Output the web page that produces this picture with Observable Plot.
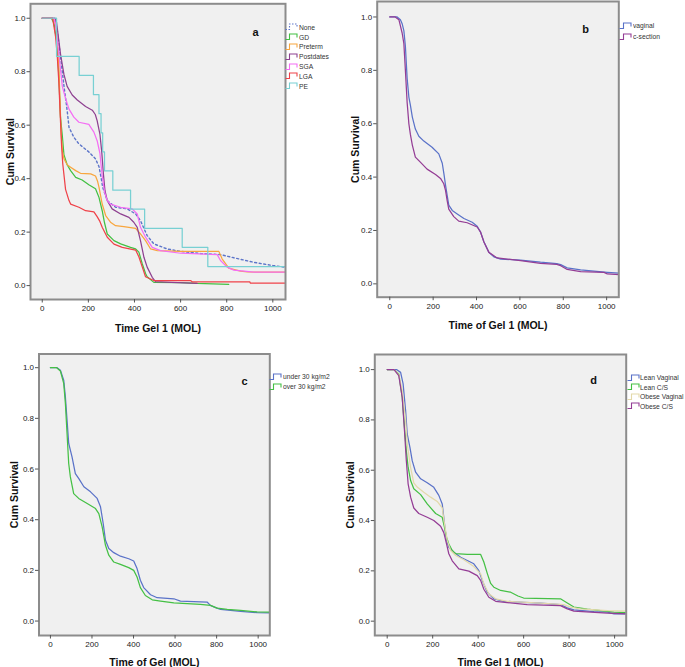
<!DOCTYPE html>
<html><head><meta charset="utf-8">
<script src="https://cdn.jsdelivr.net/npm/d3@7"></script>
<script src="https://cdn.jsdelivr.net/npm/@observablehq/plot@0.6"></script>
<style>
body{margin:0;background:#fff;}
#root{position:relative;width:685px;height:667px;overflow:hidden;font-family:"Liberation Sans",Arial,sans-serif;}
.panel{position:absolute;}
.legend{position:absolute;font-family:"Liberation Sans",Arial,sans-serif;font-size:8px;color:#333;}
.legend .it{display:flex;align-items:center;white-space:nowrap;}
.legend svg{margin-right:0.5px;flex:none;}
.legend span{display:inline-block;transform:scaleX(0.84);transform-origin:left center;}
</style></head><body><div id="root"></div><script>
// ---------- data ----------
const xTicks = [0, 200, 400, 600, 800, 1000];
const yTicks = [0, 0.2, 0.4, 0.6, 0.8, 1.0];

// panel a
const aLabels = ["None", "GD", "Preterm", "Postdates", "SGA", "LGA", "PE"];
const aNone = [[0,1],[45,1],[58,0.985],[65,0.954],[80,0.85],[94,0.748],[108,0.655],[116,0.592],[137,0.555],[159,0.53],[202,0.5],[231,0.474],[246,0.445],[256,0.4],[262,0.368],[282,0.318],[318,0.293],[368,0.287],[405,0.268],[426,0.243],[455,0.187],[484,0.156],[542,0.137],[600,0.128],[686,0.12],[773,0.116],[831,0.104],[918,0.087],[1000,0.075],[1055,0.069]];
const aGD = [[0,1],[40,1],[51,0.98],[65,0.9],[72,0.78],[79,0.63],[87,0.56],[94,0.49],[108,0.452],[123,0.43],[145,0.405],[173,0.395],[202,0.377],[231,0.362],[246,0.33],[260,0.28],[270,0.235],[282,0.193],[311,0.168],[340,0.156],[383,0.143],[405,0.137],[419,0.125],[434,0.081],[448,0.045],[455,0.033],[484,0.012],[600,0.011],[672,0.008],[809,0.005]];
const aPreterm = [[0,1],[45,1],[58,0.98],[65,0.93],[72,0.817],[82,0.567],[88,0.5],[94,0.475],[108,0.452],[123,0.443],[145,0.43],[166,0.42],[210,0.418],[231,0.41],[240,0.39],[246,0.368],[260,0.305],[275,0.262],[296,0.237],[318,0.224],[354,0.221],[405,0.214],[426,0.193],[448,0.168],[470,0.137],[499,0.131],[600,0.128],[766,0.128],[780,0.1],[809,0.065],[860,0.054],[889,0.051],[1055,0.05]];
const aPostdates = [[0,1],[55,1],[62,0.985],[67,0.95],[79,0.867],[94,0.79],[108,0.745],[130,0.713],[152,0.694],[188,0.67],[217,0.656],[230,0.64],[238,0.617],[250,0.567],[258,0.5],[265,0.42],[272,0.355],[282,0.318],[303,0.287],[340,0.268],[376,0.255],[397,0.237],[412,0.218],[426,0.168],[441,0.106],[455,0.069],[477,0.031],[491,0.015],[560,0.012],[672,0.008]];
const aSGA = [[0,1],[50,1],[58,0.975],[72,0.867],[87,0.745],[101,0.7],[116,0.66],[137,0.63],[159,0.611],[202,0.603],[224,0.574],[238,0.542],[250,0.495],[260,0.41],[270,0.35],[282,0.318],[296,0.305],[340,0.293],[390,0.287],[412,0.268],[426,0.218],[448,0.181],[477,0.143],[513,0.131],[600,0.121],[759,0.116],[773,0.094],[802,0.069],[831,0.058],[918,0.05],[1055,0.05]];
const aLGA = [[0,1],[45,1],[58,0.93],[65,0.86],[72,0.76],[79,0.617],[84,0.52],[89,0.455],[101,0.36],[116,0.318],[123,0.305],[159,0.293],[188,0.28],[224,0.276],[238,0.258],[250,0.24],[260,0.218],[282,0.181],[311,0.155],[347,0.143],[405,0.133],[419,0.108],[434,0.069],[448,0.033],[484,0.019],[643,0.019],[650,0.014],[900,0.014],[903,0.009],[1055,0.009]];
const aPE = [[0,1],[62,0.857],[160,0.786],[222,0.714],[246,0.643],[255,0.571],[262,0.5],[270,0.429],[306,0.357],[383,0.286],[444,0.214],[607,0.143],[718,0.071],[1055,0.071]];

// panel b
const bLabels = ["vaginal", "c-section"];
const bVaginal = [[0,1],[34,1],[49,0.99],[57,0.975],[65,0.948],[72,0.89],[80,0.77],[88,0.7],[95,0.67],[104,0.625],[118,0.58],[134,0.553],[157,0.535],[195,0.512],[226,0.487],[242,0.452],[250,0.41],[257,0.37],[265,0.33],[272,0.295],[288,0.275],[311,0.262],[342,0.245],[380,0.231],[403,0.216],[418,0.195],[434,0.158],[457,0.118],[480,0.101],[511,0.093],[603,0.089],[695,0.081],[770,0.076],[788,0.072],[818,0.06],[880,0.052],[1003,0.043],[1057,0.04]];
const bCsection = [[0,1],[25,1],[42,0.99],[57,0.94],[65,0.9],[72,0.8],[80,0.68],[88,0.6],[95,0.56],[104,0.52],[118,0.475],[142,0.455],[172,0.43],[211,0.41],[234,0.395],[249,0.375],[257,0.35],[265,0.31],[272,0.28],[295,0.252],[318,0.235],[357,0.229],[403,0.213],[418,0.195],[434,0.157],[457,0.118],[495,0.097],[542,0.093],[603,0.087],[695,0.077],[770,0.073],[788,0.068],[818,0.054],[880,0.046],[988,0.043],[1003,0.037],[1057,0.035]];

// panel c
const cLabels = ["under 30 kg/m2", "over 30 kg/m2"];
const cUnder = [[0,1],[32,1],[48,0.99],[64,0.951],[72,0.885],[80,0.793],[88,0.701],[104,0.648],[120,0.582],[136,0.563],[161,0.53],[193,0.51],[225,0.484],[241,0.451],[254,0.385],[265,0.319],[281,0.286],[305,0.27],[337,0.256],[377,0.246],[401,0.237],[417,0.207],[433,0.161],[449,0.132],[482,0.104],[514,0.092],[594,0.088],[626,0.079],[754,0.075],[770,0.062],[795,0.053],[819,0.046],[915,0.038],[995,0.033],[1056,0.032]];
const cOver = [[0,1],[30,1],[48,0.987],[64,0.938],[72,0.859],[80,0.74],[88,0.622],[96,0.569],[112,0.503],[136,0.484],[177,0.464],[217,0.444],[233,0.424],[249,0.372],[265,0.299],[281,0.26],[305,0.233],[337,0.224],[377,0.211],[401,0.2],[417,0.174],[433,0.132],[457,0.101],[490,0.084],[530,0.079],[594,0.072],[722,0.066],[770,0.062],[803,0.051],[851,0.046],[915,0.042],[995,0.036],[1056,0.035]];

// panel d
const dLabels = ["Lean Vaginal", "Lean C/S", "Obese Vaginal", "Obese C/S"];
const dLeanVag = [[0,1],[41,1],[59,0.989],[70,0.943],[81,0.837],[88,0.744],[100,0.691],[110,0.638],[125,0.592],[147,0.566],[176,0.55],[205,0.532],[227,0.5],[242,0.466],[252,0.387],[261,0.321],[271,0.294],[293,0.274],[323,0.254],[359,0.238],[381,0.228],[403,0.201],[418,0.162],[440,0.115],[469,0.089],[513,0.079],[601,0.075],[674,0.072],[762,0.066],[792,0.053],[821,0.045],[909,0.038],[968,0.036],[997,0.029],[1051,0.029]];
const dLeanCS = [[0,1],[30,1],[51,0.983],[66,0.89],[76,0.771],[84,0.678],[92,0.612],[103,0.559],[117,0.526],[147,0.503],[176,0.466],[213,0.428],[242,0.413],[252,0.373],[261,0.334],[271,0.307],[286,0.281],[301,0.268],[352,0.265],[411,0.265],[425,0.235],[440,0.19],[455,0.15],[469,0.135],[499,0.122],[543,0.115],[575,0.1],[600,0.092],[762,0.089],[792,0.072],[821,0.056],[880,0.048],[997,0.036],[1051,0.034]];
const dObeseVag = [[0,1],[30,1],[51,0.98],[66,0.917],[81,0.797],[88,0.705],[103,0.61],[117,0.55],[132,0.533],[161,0.512],[191,0.493],[220,0.476],[242,0.45],[252,0.387],[264,0.321],[279,0.281],[301,0.261],[337,0.244],[381,0.217],[411,0.188],[425,0.148],[447,0.109],[477,0.089],[528,0.079],[674,0.072],[777,0.066],[806,0.056],[850,0.049],[968,0.042],[1051,0.04]];
const dObeseCS = [[0,1],[30,1],[51,0.976],[66,0.89],[76,0.758],[84,0.64],[92,0.546],[103,0.493],[117,0.45],[139,0.428],[176,0.413],[205,0.4],[235,0.377],[249,0.352],[261,0.307],[271,0.268],[286,0.24],[315,0.208],[359,0.199],[396,0.181],[411,0.162],[425,0.127],[447,0.095],[477,0.079],[528,0.074],[616,0.066],[762,0.062],[792,0.049],[821,0.04],[968,0.032],[1051,0.029]];

// ---------- styles ----------
const cBlue = "#5a72c8", cGreen = "#45c045", cPurple = "#943d95";
const panels = [
  {left:0, top:0, width:340, height:340, mL:30, mR:55, mT:3.3, mB:41, xDom:[-51,1055], yDom:[-0.052,1.054],
   xLabel:"Time Gel 1 (MOL)", letter:"a", ldx:-30, ldy:28.7, ydx:-20, xdy:29,
   legend:{x:285, y:22.5, h:9.8},
   series:[
     {name:aLabels[0], pts:aNone, color:"#5d75c9", dash:"2,2.6", w:1.4},
     {name:aLabels[1], pts:aGD, color:"#43c043"},
     {name:aLabels[2], pts:aPreterm, color:"#f8a63e"},
     {name:aLabels[3], pts:aPostdates, color:"#8e4191"},
     {name:aLabels[4], pts:aSGA, color:"#f46ef4"},
     {name:aLabels[5], pts:aLGA, color:"#ef4249"},
     {name:aLabels[6], pts:aPE, color:"#78d0d3", curve:"step-after"}
   ]},
  {left:340, top:0, width:345, height:340, mL:36.7, mR:66.7, mT:1, mB:43.3, xDom:[-58,1056], yDom:[-0.05,1.058],
   xLabel:"Time of Gel 1 (MOL)", letter:"b", ldx:-33.3, ldy:28, ydx:-21.7, xdy:28.5,
   legend:{x:619.3, y:20.2, h:11},
   series:[
     {name:bLabels[0], pts:bVaginal, color:cBlue},
     {name:bLabels[1], pts:bCsection, color:cPurple}
   ]},
  {left:0, top:350, width:340, height:317, mL:38.5, mR:70.7, mT:3.5, mB:32, xDom:[-55,1056], yDom:[-0.057,1.054],
   xLabel:"Time of Gel (MOL)", letter:"c", ldx:-25.3, ldy:27, ydx:-24, xdy:26.7,
   legend:{x:269.3, y:371.7, h:10},
   series:[
     {name:cLabels[0], pts:cUnder, color:cBlue},
     {name:cLabels[1], pts:cOver, color:cGreen}
   ]},
  {left:340, top:350, width:345, height:317, mL:34.3, mR:59.3, mT:4, mB:32, xDom:[-54.5,1051], yDom:[-0.057,1.06],
   xLabel:"Time Gel 1 (MOL)", letter:"d", ldx:-32.7, ldy:26, ydx:-24.3, xdy:26.7,
   legend:{x:626.5, y:373, h:9.5},
   series:[
     {name:dLabels[0], pts:dLeanVag, color:cBlue},
     {name:dLabels[1], pts:dLeanCS, color:cGreen},
     {name:dLabels[2], pts:dObeseVag, color:"#e3d9aa"},
     {name:dLabels[3], pts:dObeseCS, color:cPurple}
   ]}
];

const root = document.getElementById("root");
for (const p of panels) {
  const chart = Plot.plot({
    width: p.width, height: p.height,
    marginLeft: p.mL, marginRight: p.mR, marginTop: p.mT, marginBottom: p.mB,
    style: {background: "transparent", color: "#222", fontFamily: "'Liberation Sans', Arial, sans-serif", overflow: "visible"},
    x: {domain: p.xDom},
    y: {domain: p.yDom},
    marks: [
      Plot.frame({fill: "#f0f0f0"}),
      ...p.series.map(s => Plot.line(s.pts, {
        x: d => d[0], y: d => d[1], stroke: s.color, strokeWidth: s.w || 1.25,
        strokeDasharray: s.dash, curve: s.curve || "linear", clip: true
      })),
      Plot.frame({stroke: "#8c8c8c", strokeWidth: 2}),
      Plot.axisX({ticks: xTicks, tickFormat: d => String(d), tickSize: 3.5, tickPadding: 2.5, fontSize: 8, label: null, stroke: "#555"}),
      Plot.axisY({ticks: yTicks, tickFormat: d3.format(".1f"), tickSize: 3.5, tickPadding: 1.5, fontSize: 8, label: null, stroke: "#555"}),
      Plot.text([p.xLabel], {frameAnchor: "bottom", dy: p.xdy, fontWeight: "bold", fontSize: 10.5, textAnchor: "middle", lineAnchor: "middle", fill: "#111"}),
      Plot.text(["Cum Survival"], {frameAnchor: "left", dx: p.ydx, rotate: -90, fontWeight: "bold", fontSize: 10.5, textAnchor: "middle", lineAnchor: "middle", fill: "#111"}),
      Plot.text([p.letter], {frameAnchor: "top-right", dx: p.ldx, dy: p.ldy, fontWeight: "bold", fontSize: 11, textAnchor: "middle", lineAnchor: "middle", fill: "#111"})
    ]
  });
  const wrap = document.createElement("div");
  wrap.className = "panel";
  wrap.style.left = p.left + "px";
  wrap.style.top = p.top + "px";
  wrap.appendChild(chart);
  root.appendChild(wrap);

  const lg = document.createElement("div");
  lg.className = "legend";
  lg.style.left = p.legend.x + "px";
  lg.style.top = p.legend.y + "px";
  for (const s of p.series) {
    const it = document.createElement("div");
    it.className = "it";
    it.style.height = p.legend.h + "px";
    const dash = s.dash ? ` stroke-dasharray="1.5,1.5"` : "";
    it.innerHTML = `<svg width="13" height="8" viewBox="0 0 13 8"><path d="M0.5,6.5H4.5V1H12V4.5" fill="none" stroke="${s.color}" stroke-width="1.1"${dash}/></svg><span>${s.name}</span>`;
    lg.appendChild(it);
  }
  root.appendChild(lg);
}
</script></body></html>
